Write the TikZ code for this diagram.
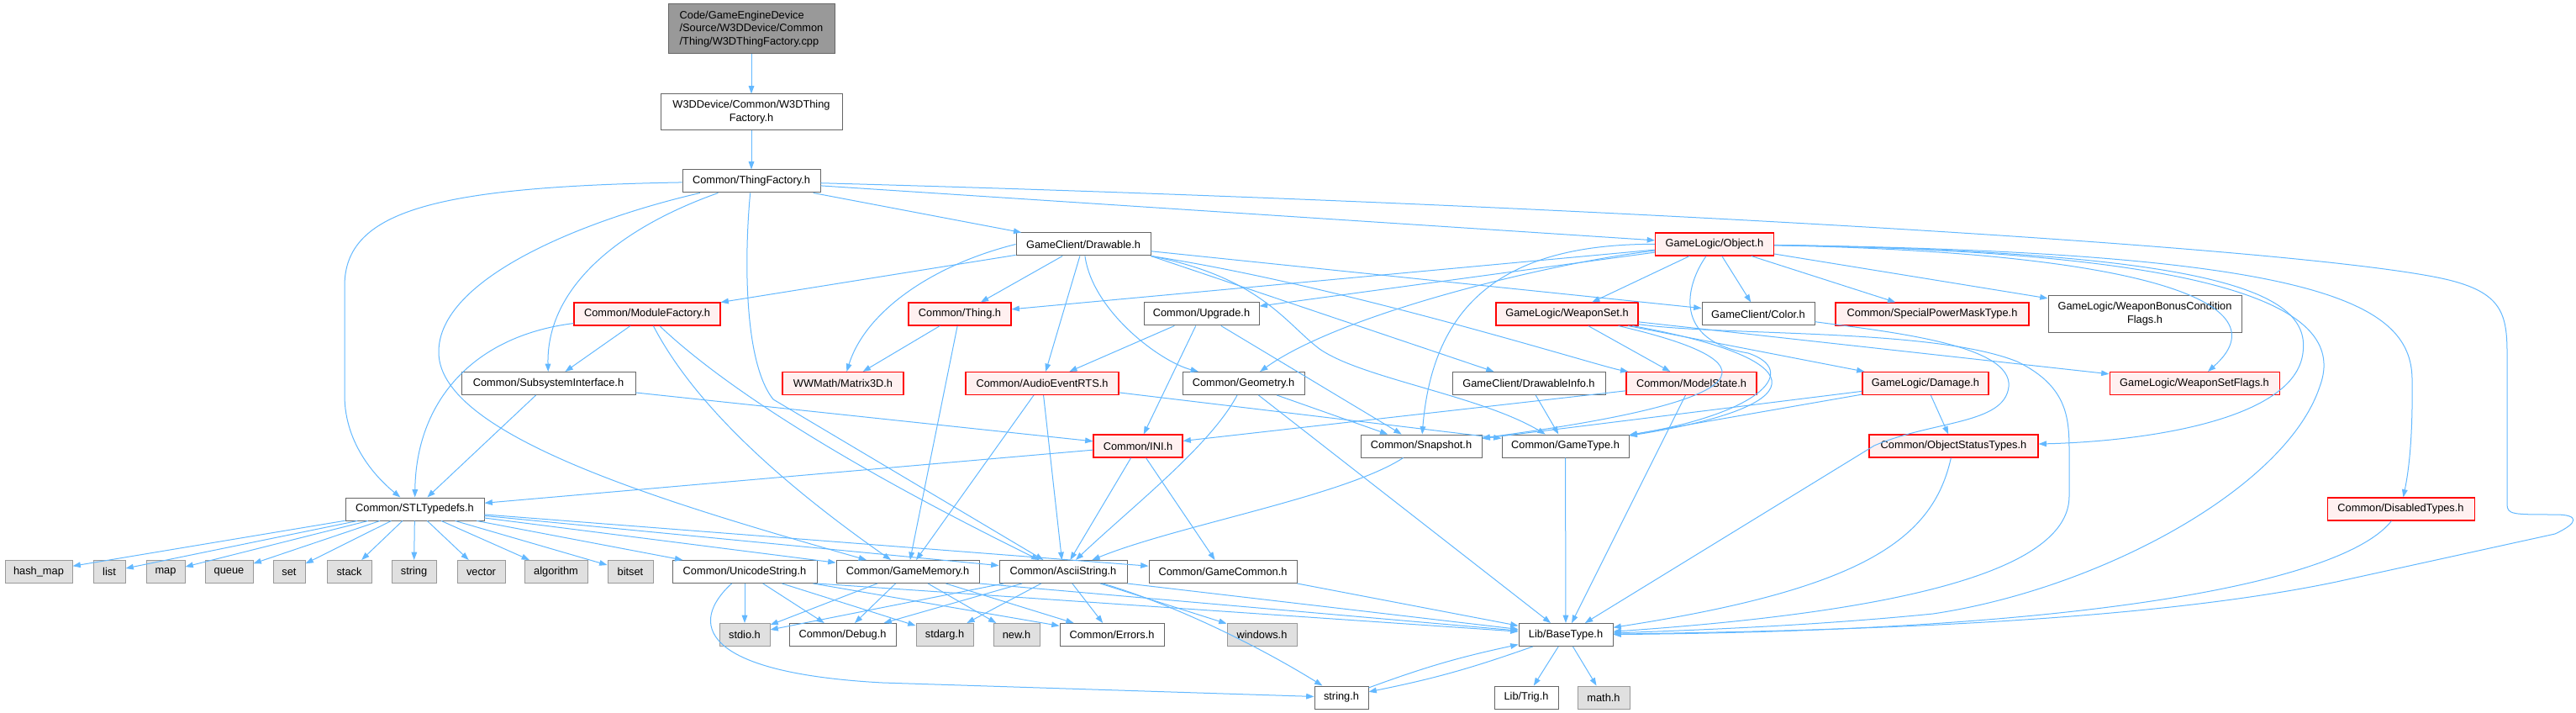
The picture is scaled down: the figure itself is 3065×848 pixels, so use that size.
\documentclass[tikz,border=0pt]{standalone}
\usepackage{fontspec}
\setmainfont{Liberation Sans}
\usetikzlibrary{arrows.meta}
\definecolor{inclblue}{HTML}{63B8FF}
\definecolor{boxgray}{HTML}{666666}
\definecolor{sysgray}{HTML}{999999}
\definecolor{sysfill}{HTML}{E0E0E0}
\definecolor{redfill}{HTML}{FFF0F0}
\definecolor{rootfill}{HTML}{999999}

\begin{document}
\begin{tikzpicture}[x=0.75pt, y=-0.75pt, >={Triangle[length=7pt,width=5pt]},
          every node/.style={font=\fontsize{9.6}{11.8}\selectfont, align=center, inner sep=1pt},
          wd/.style={minimum width=#1*0.75pt},
          hdr/.style={draw=boxgray, fill=white, line width=0.75pt, minimum height=20.25pt},
          trunc/.style={draw=red, fill=redfill, line width=0.8pt, minimum height=20.25pt},
          sys/.style={draw=sysgray, fill=sysfill, line width=0.75pt, minimum height=20.25pt},
          incl/.style={->, draw=inclblue, line width=0.75pt}]
        \useasboundingbox (0,0) rectangle (3065,848);
        \node[hdr, fill=rootfill, wd=198, minimum height=44.25pt, align=left] (root) at (894,34.5) {Code/GameEngineDevice\\/Source/W3DDevice/Common\\/Thing/W3DThingFactory.cpp};
        \node[hdr, wd=216, minimum height=32.25pt] (w3dtf) at (894,133.5) {W3DDevice/Common/W3DThing\\Factory.h};
        \node[hdr, wd=164] (thingfac) at (894,215.5) {Common/ThingFactory.h};
        \node[hdr, wd=160] (drawable) at (1289,290.5) {GameClient/Drawable.h};
        \node[trunc, wd=141] (object) at (2040,290.5) {GameLogic/Object.h};
        \node[trunc, wd=174] (modfac) at (770,373.5) {Common/ModuleFactory.h};
        \node[trunc, wd=122] (thing) at (1142,373.5) {Common/Thing.h};
        \node[hdr, wd=137] (upgrade) at (1429.5,373.5) {Common/Upgrade.h};
        \node[trunc, wd=169] (weaponset) at (1864.5,373.5) {GameLogic/WeaponSet.h};
        \node[hdr, wd=134] (color) at (2092,373.5) {GameClient/Color.h};
        \node[trunc, wd=230] (spmask) at (2299,373.5) {Common/SpecialPowerMaskType.h};
        \node[hdr, wd=230, minimum height=32.25pt] (wbcflags) at (2552,373.5) {GameLogic/WeaponBonusCondition\\Flags.h};
        \node[hdr, wd=207] (subsys) at (652.5,456) {Common/SubsystemInterface.h};
        \node[trunc, wd=144] (matrix) at (1003,456) {WWMath/Matrix3D.h};
        \node[trunc, wd=182] (audio) at (1240,456) {Common/AudioEventRTS.h};
        \node[hdr, wd=145] (geometry) at (1479.5,456) {Common/Geometry.h};
        \node[hdr, wd=182] (drawinfo) at (1819,456) {GameClient/DrawableInfo.h};
        \node[trunc, wd=155] (modelstate) at (2012.5,456) {Common/ModelState.h};
        \node[trunc, wd=150] (damage) at (2291,456) {GameLogic/Damage.h};
        \node[trunc, wd=202] (wsflags) at (2611,456) {GameLogic/WeaponSetFlags.h};
        \node[trunc, wd=106] (ini) at (1354,530.5) {Common/INI.h};
        \node[hdr, wd=144] (snapshot) at (1691,530.5) {Common/Snapshot.h};
        \node[hdr, wd=151] (gametype) at (1862.5,530.5) {Common/GameType.h};
        \node[trunc, wd=201] (objstatus) at (2324.5,530.5) {Common/ObjectStatusTypes.h};
        \node[trunc, wd=175] (disabled) at (2856.5,605.5) {Common/DisabledTypes.h};
        \node[hdr, wd=165] (stl) at (493.5,605.5) {Common/STLTypedefs.h};
        \node[sys, wd=80] (hashmap) at (46,680) {hash\_map};
        \node[sys, wd=38] (stdlist) at (130,680) {list};
        \node[sys, wd=46] (stdmap) at (197,680) {map};
        \node[sys, wd=57] (stdqueue) at (272.5,680) {queue};
        \node[sys, wd=38] (stdset) at (344,680) {set};
        \node[sys, wd=53] (stdstack) at (415.5,680) {stack};
        \node[sys, wd=53] (stdstring) at (492.5,680) {string};
        \node[sys, wd=57] (stdvector) at (572.5,680) {vector};
        \node[sys, wd=75] (stdalgo) at (661.5,680) {algorithm};
        \node[sys, wd=54] (stdbitset) at (750,680) {bitset};
        \node[hdr, wd=172] (unicode) at (886,680) {Common/UnicodeString.h};
        \node[hdr, wd=170] (gamemem) at (1080,680) {Common/GameMemory.h};
        \node[hdr, wd=152] (ascii) at (1265,680) {Common/AsciiString.h};
        \node[hdr, wd=176] (gamecommon) at (1455,680) {Common/GameCommon.h};
        \node[sys, wd=60] (stdio) at (886,755) {stdio.h};
        \node[hdr, wd=127] (debug) at (1002.5,755) {Common/Debug.h};
        \node[sys, wd=68] (stdarg) at (1124,755) {stdarg.h};
        \node[sys, wd=55] (newh) at (1209.5,755) {new.h};
        \node[hdr, wd=124] (errors) at (1323,755) {Common/Errors.h};
        \node[sys, wd=83] (windows) at (1501.5,755) {windows.h};
        \node[hdr, wd=112] (basetype) at (1863,755) {Lib/BaseType.h};
        \node[hdr, wd=64] (stringh) at (1596,829.5) {string.h};
        \node[hdr, wd=76] (trig) at (1816,829.5) {Lib/Trig.h};
        \node[sys, wd=62] (mathh) at (1908,829.5) {math.h};
        \draw[incl] (root) -- (w3dtf);
        \draw[incl] (w3dtf) -- (thingfac);
        \draw[incl] (thingfac) .. controls (520,222) and (410,250) .. (410,340) -- (410,470) .. controls (410,530) and (450,570) .. (stl);
        \draw[incl] (thingfac) .. controls (740,270) and (650,340) .. (subsys);
        \draw[incl] (thingfac) .. controls (700,260) and (520,330) .. (522,420) .. controls (524,520) and (800,600) .. (gamemem);
        \draw[incl] (thingfac) .. controls (886,300) and (884,430) .. (920,475) -- (ascii);
        \draw[incl] (thingfac) -- (drawable);
        \draw[incl] (thingfac) -- (object);
        \draw[incl] (thingfac) .. controls (1800,240) and (2700,290) .. (2900,330) .. controls (2975,345) and (2983,370) .. (2983,420) -- (2983,600) .. controls (2983,612) and (2990,612) .. (3040,612) .. controls (3070,612) and (3068,622) .. (3040,635) -- (2780,692) .. controls (2550,740) and (2200,750) .. (basetype);
        \draw[incl] (drawable) -- (modfac);
        \draw[incl] (drawable) -- (thing);
        \draw[incl] (drawable.west) .. controls (1110,315) and (1030,370) .. (matrix);
        \draw[incl] (drawable) -- (audio);
        \draw[incl] (drawable) .. controls (1300,370) and (1380,430) .. (geometry);
        \draw[incl] (drawable) -- (color);
        \draw[incl] (drawable.south east) -- (drawinfo);
        \draw[incl] (drawable.south east) .. controls (1600,340) and (1900,435) .. (modelstate);
        \draw[incl] (drawable.south east) .. controls (1500,330) and (1530,385) .. (1570,415) .. controls (1620,450) and (1760,470) .. (gametype);
        \draw[incl] (object) -- (thing);
        \draw[incl] (object) -- (upgrade);
        \draw[incl] (object) .. controls (1860,310) and (1600,370) .. (geometry);
        \draw[incl] (object) .. controls (1790,290) and (1705,360) .. (snapshot);
        \draw[incl] (object) -- (weaponset);
        \draw[incl] (object) -- (color);
        \draw[incl] (object) -- (spmask);
        \draw[incl] (object) -- (wbcflags);
        \draw[incl] (object) .. controls (2550,300) and (2720,360) .. (wsflags);
        \draw[incl] (object) .. controls (2650,300) and (2750,350) .. (2740,420) .. controls (2730,500) and (2550,525) .. (objstatus);
        \draw[incl] (object) .. controls (2700,300) and (2790,380) .. (2760,460) .. controls (2720,580) and (2500,700) .. (2300,730) .. controls (2150,745) and (2000,750) .. (basetype);
        \draw[incl] (object) .. controls (2760,300) and (2868,360) .. (2870,450) .. controls (2871,520) and (2866,560) .. (disabled);
        \draw[incl] (object) .. controls (2005,340) and (1990,405) .. (2080,420) .. controls (2140,440) and (2100,490) .. (gametype);
        \draw[incl] (weaponset) -- (modelstate);
        \draw[incl] (weaponset) -- (damage);
        \draw[incl] (weaponset) -- (wsflags);
        \draw[incl] (weaponset) .. controls (2110,430) and (2110,475) .. (snapshot);
        \draw[incl] (weaponset) .. controls (2150,425) and (2175,480) .. (gametype);
        \draw[incl] (weaponset) .. controls (2050,400) and (2300,390) .. (2400,430) .. controls (2462,460) and (2462,500) .. (2462,540) -- (2462,590) .. controls (2462,670) and (2300,725) .. (basetype);
        \draw[incl] (color) .. controls (2250,395) and (2395,410) .. (2390,460) .. controls (2385,505) and (2300,500) .. (2230,530) -- (basetype);
        \draw[incl] (modelstate) -- (ini);
        \draw[incl] (modelstate) -- (basetype);
        \draw[incl] (damage) -- (objstatus);
        \draw[incl] (damage) -- (snapshot);
        \draw[incl] (damage) -- (gametype);
        \draw[incl] (objstatus) .. controls (2300,640) and (2220,700) .. (basetype);
        \draw[incl] (disabled) .. controls (2790,690) and (2500,750) .. (basetype);
        \draw[incl] (upgrade) -- (audio);
        \draw[incl] (upgrade) -- (ini);
        \draw[incl] (upgrade) -- (snapshot);
        \draw[incl] (thing) -- (matrix);
        \draw[incl] (thing) -- (gamemem);
        \draw[incl] (modfac) -- (subsys);
        \draw[incl] (modfac) .. controls (560,400) and (495,480) .. (stl);
        \draw[incl] (modfac) .. controls (810,450) and (880,540) .. (gamemem);
        \draw[incl] (modfac) .. controls (840,440) and (960,530) .. (ascii);
        \draw[incl] (subsys) -- (stl);
        \draw[incl] (subsys) -- (ini);
        \draw[incl] (audio) -- (gamemem);
        \draw[incl] (audio) -- (ascii);
        \draw[incl] (audio) -- (gametype);
        \draw[incl] (geometry) -- (snapshot);
        \draw[incl] (geometry) -- (basetype);
        \draw[incl] (geometry) .. controls (1440,530) and (1350,600) .. (ascii);
        \draw[incl] (drawinfo) -- (gametype);
        \draw[incl] (ini) -- (stl);
        \draw[incl] (ini) -- (ascii);
        \draw[incl] (ini) -- (gamecommon);
        \draw[incl] (snapshot) .. controls (1600,590) and (1400,625) .. (ascii);
        \draw[incl] (gametype) -- (basetype);
        \draw[incl] (stl) -- (hashmap);
        \draw[incl] (stl) -- (stdlist);
        \draw[incl] (stl) -- (stdmap);
        \draw[incl] (stl) -- (stdqueue);
        \draw[incl] (stl) -- (stdset);
        \draw[incl] (stl) -- (stdstack);
        \draw[incl] (stl) -- (stdstring);
        \draw[incl] (stl) -- (stdvector);
        \draw[incl] (stl) -- (stdalgo);
        \draw[incl] (stl) -- (stdbitset);
        \draw[incl] (stl) -- (unicode);
        \draw[incl] (stl) -- (gamemem);
        \draw[incl] (stl) -- (ascii);
        \draw[incl] (stl) -- (gamecommon);
        \draw[incl] (unicode) -- (stdio);
        \draw[incl] (unicode) -- (debug);
        \draw[incl] (unicode) -- (stdarg);
        \draw[incl] (unicode) -- (errors);
        \draw[incl] (unicode.south east) -- (basetype);
        \draw[incl] (unicode) .. controls (820,740) and (830,800) .. (1050,812) -- (stringh);
        \draw[incl] (gamemem) -- (stdio);
        \draw[incl] (gamemem) -- (debug);
        \draw[incl] (gamemem) -- (newh);
        \draw[incl] (gamemem) -- (errors);
        \draw[incl] (gamemem.south east) -- (basetype);
        \draw[incl] (ascii) -- (stdio);
        \draw[incl] (ascii) -- (debug);
        \draw[incl] (ascii) -- (stdarg);
        \draw[incl] (ascii) -- (errors);
        \draw[incl] (ascii) -- (windows);
        \draw[incl] (ascii.south east) -- (basetype);
        \draw[incl] (ascii) .. controls (1400,720) and (1500,770) .. (stringh);
        \draw[incl] (gamecommon.south east) -- (basetype);
        \draw[incl] (basetype) -- (trig);
        \draw[incl] (basetype) -- (mathh);
        \draw[incl] (basetype) to[bend left=4] (stringh);
        \draw[incl] (stringh) to[bend left=4] (basetype);
      \end{tikzpicture}
\end{document}
